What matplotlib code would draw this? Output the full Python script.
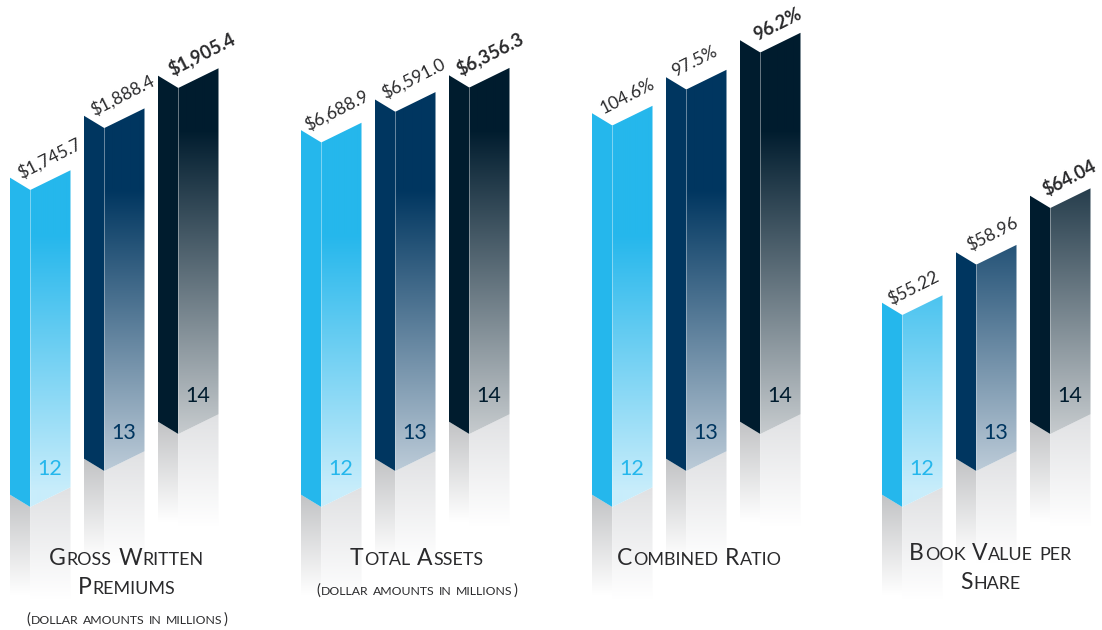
import numpy as np
import matplotlib
matplotlib.use("Agg")
import matplotlib.pyplot as plt
from matplotlib.colors import to_rgb
from matplotlib.patches import Polygon

# Financial highlights, one group of three years per metric
years = ["12", "13", "14"]
premium_values = [1745.7, 1888.4, 1905.4]
asset_values = [6688.9, 6591.0, 6356.3]
ratio_values = [104.6, 97.5, 96.2]
book_values = [55.22, 58.96, 64.04]

premium_labels = ["$1,745.7", "$1,888.4", "$1,905.4"]
asset_labels = ["$6,688.9", "$6,591.0", "$6,356.3"]
ratio_labels = ["104.6%", "97.5%", "96.2%"]
book_labels = ["$55.22", "$58.96", "$64.04"]

W, H = 1102, 630
FONT = "Lato"
INK = "#2a2a2c"

# Each year's column: x offset in the group, floor level, colours
BAR_X = [0, 74, 148]
FLOOR = [507, 471, 434]
SIDE = ["#25b7ec", "#003660", "#001c2e"]
FADE_TO = ["#c8edfb", "#bccbd8", "#c4c9cc"]
FADE_FROM_Y = [235, 190, 130]
FADE_TO_Y = [490, 470, 430]

LEFT_W, RIGHT_W = 20.3, 40.2
DROP_L, RISE_R = 12.3, 19.7

fig = plt.figure(figsize=(W / 100, H / 100), dpi=100, facecolor="white")
ax = fig.add_axes([0, 0, 1, 1])
ax.set_axis_off()


def gradient(stops_y, c0, c1):
    """Vertical gradient covering the full canvas height."""
    ys = np.arange(H) + 0.5
    t = np.clip((ys - stops_y[0]) / (stops_y[1] - stops_y[0]), 0, 1)[:, None]
    a, b = np.array(to_rgb(c0)), np.array(to_rgb(c1))
    return (a + (b - a) * t)[:, None, :]


def paint(poly_pts, img, z):
    xs = [p[0] for p in poly_pts]
    im = ax.imshow(img, extent=(min(xs), max(xs), H, 0), aspect="auto",
                   zorder=z, interpolation="bilinear")
    clip = Polygon(poly_pts, closed=True, transform=ax.transData)
    im.set_clip_path(clip)


def draw_bar(x0, i, height):
    xf, xr = x0 + LEFT_W, x0 + LEFT_W + RIGHT_W
    floor = FLOOR[i]
    top = floor - height

    left = [(x0, top - DROP_L), (xf, top), (xf, floor), (x0, floor - DROP_L)]
    right = [(xf, top), (xr, top - RISE_R), (xr, floor - RISE_R), (xf, floor)]

    # Floor reflections fade out below each face
    refl_l = 100
    refl_r = 112
    paint([(x0, floor - DROP_L), (xf, floor), (xf, floor + refl_l),
           (x0, floor - DROP_L + refl_l)],
          gradient((floor - DROP_L, floor - DROP_L + refl_l), "#c2c3c5", "#ffffff"), 1)
    paint([(xf, floor), (xr, floor - RISE_R), (xr, floor - RISE_R + refl_r),
           (xf, floor - RISE_R + refl_r)],
          gradient((floor - RISE_R, floor - RISE_R + refl_r), "#e0e1e3", "#ffffff"), 1)

    ax.add_patch(Polygon(left, closed=True, fc=SIDE[i], ec="none", zorder=3))
    paint(right, gradient((FADE_FROM_Y[i], FADE_TO_Y[i]), SIDE[i], FADE_TO[i]), 3)
    ax.plot([xf, xf], [top, floor], color="white", alpha=0.25, lw=0.7, zorder=4)
    return top


def smallcaps(cx, cy, s, size, ratio=0.78, color=INK):
    """Centre a line of small capitals: real capitals stay large, the rest shrink."""
    rend = fig.canvas.get_renderer()
    items = []
    total = 0.0
    for w_i, word in enumerate(s.split(" ")):
        if w_i:
            total += size * 0.36
            items.append((None, size * 0.36))
        runs, buf = [], ""
        for ch in word:
            if buf and (buf[-1].islower() != ch.islower()):
                runs.append(buf)
                buf = ""
            buf += ch
        runs.append(buf)
        for r in runs:
            low = r[0].islower()
            t = ax.text(0, cy, r.upper(), fontsize=size * ratio if low else size,
                        family=FONT, color=color, va="baseline", ha="left", zorder=6)
            adv = t.get_window_extent(rend).width + 0.7
            items.append((t, adv))
            total += adv
    x = cx - total / 2
    for t, adv in items:
        if t is not None:
            t.set_x(x)
        x += adv


# One (offset, gain) pair per group turns a value into a column height;
# the combined-ratio group is drawn with equal columns.
groups = [
    dict(x=10, values=premium_values, labels=premium_labels, scale=(0.0, 0.1816),
         offs=[(39, -19), (38, -20), (44, -22)]),
    dict(x=301, values=asset_values, labels=asset_labels, scale=(0.0, 0.0545),
         offs=[(36, -20), (38, -21), (41, -22)]),
    dict(x=592, values=ratio_values, labels=ratio_labels, scale=(381.5, 0.0),
         offs=[(36, -17), (29, -16), (38, -16)]),
    dict(x=882, values=book_values, labels=book_labels, scale=(-20.9, 3.855),
         offs=[(31, -15), (36, -18), (39, -18)]),
]

for g in groups:
    for i, v in enumerate(g["values"]):
        x0 = g["x"] + BAR_X[i]
        h = g["scale"][0] + g["scale"][1] * v
        top = draw_bar(x0, i, h)
        ox, oy = g["offs"][i]
        ax.text(x0 + ox, top - DROP_L + oy, g["labels"][i], rotation=27,
                rotation_mode="anchor", ha="center", va="center",
                fontsize=13.2 if i == 2 else 12.6, family=FONT, color=INK, zorder=6,
                fontweight="bold" if i == 2 else "normal")
        ax.text(x0 + 40, FLOOR[i] - 38, years[i], ha="center", va="center",
                fontsize=15.5, family=FONT, color=SIDE[i], zorder=6)

TITLE = 16.5
SUB = 10.8
smallcaps(127, 565, "Gross Written", TITLE)
smallcaps(127, 594, "Premiums", TITLE)
smallcaps(127, 624, "(dollar amounts in millions)", SUB, ratio=0.82)
smallcaps(417, 565, "Total Assets", TITLE)
smallcaps(417, 595, "(dollar amounts in millions)", SUB, ratio=0.82)
smallcaps(700, 565, "Combined Ratio", TITLE)
smallcaps(991, 560, "Book Value per", TITLE)
smallcaps(991, 589, "Share", TITLE)

ax.set_xlim(0, W)
ax.set_ylim(H, 0)
fig.savefig("out.png", dpi=100, facecolor="white")
